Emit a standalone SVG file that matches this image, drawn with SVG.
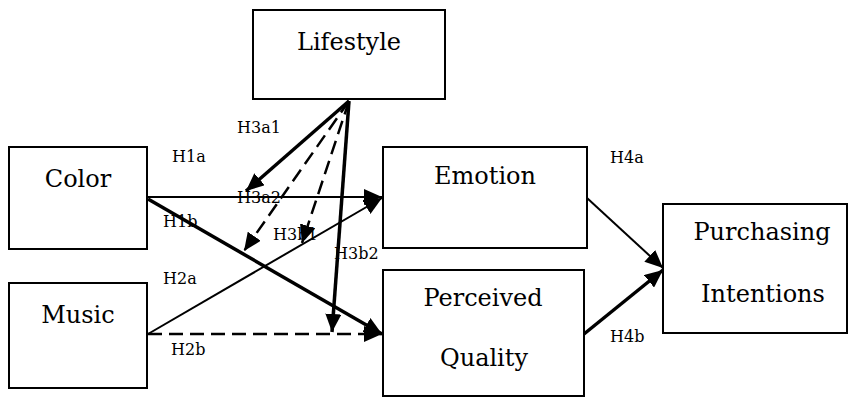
<svg xmlns="http://www.w3.org/2000/svg" width="852" height="399" viewBox="0 0 852 399">
<style>
.box{fill:#fff;stroke:#000;stroke-width:2}
.nt{font-family:DejaVu Serif,serif;font-size:24px;fill:#000;text-anchor:middle}
.lb{font-family:DejaVu Serif,serif;font-size:16px;fill:#000}
.thin{stroke:#000;stroke-width:2;fill:none}
.thick{stroke:#000;stroke-width:3.5;fill:none}
.dash{stroke:#000;stroke-width:2.5;fill:none;stroke-dasharray:14 7}
</style>
<defs>
<marker id="ah" markerUnits="userSpaceOnUse" markerWidth="20" markerHeight="16" refX="18" refY="8" orient="auto">
<path d="M0,0 L18,8 L0,16 Z" fill="#000"/>
</marker>
</defs>
<rect width="852" height="399" fill="#fff"/>
<g id="lifestyle"><rect class="box" x="253" y="10" width="192" height="89"/><text class="nt" x="349" y="50">Lifestyle</text></g>
<g id="color"><rect class="box" x="9" y="147" width="138" height="102"/><text class="nt" x="78" y="187">Color</text></g>
<g id="music"><rect class="box" x="9" y="283" width="138" height="105"/><text class="nt" x="78" y="323">Music</text></g>
<g id="emotion"><rect class="box" x="383" y="147" width="204" height="101"/><text class="nt" x="485" y="184">Emotion</text></g>
<g id="quality"><rect class="box" x="383" y="270" width="201" height="126"/><text class="nt" x="483" y="306">Perceived</text><text class="nt" x="484" y="366">Quality</text></g>
<g id="intentions"><rect class="box" x="663" y="204" width="184" height="129"/><text class="nt" x="762" y="240">Purchasing</text><text class="nt" x="763" y="302">Intentions</text></g>
<g id="connectors">
<line class="thin" x1="147" y1="197" x2="382" y2="197" marker-end="url(#ah)"/>
<line class="thick" x1="148" y1="199" x2="382" y2="334" marker-end="url(#ah)"/>
<line class="thin" x1="148" y1="334" x2="382" y2="198" marker-end="url(#ah)"/>
<line class="dash" x1="148" y1="334" x2="382" y2="334" marker-end="url(#ah)"/>
<line class="thick" x1="349" y1="101" x2="246" y2="191" marker-end="url(#ah)"/>
<line class="dash" x1="349" y1="101" x2="244" y2="251" marker-end="url(#ah)"/>
<line class="dash" x1="349" y1="101" x2="302" y2="243" marker-end="url(#ah)"/>
<line class="thick" x1="349" y1="101" x2="332" y2="332" marker-end="url(#ah)"/>
<line class="thin" x1="587" y1="198" x2="663" y2="268" marker-end="url(#ah)"/>
<line class="thick" x1="584" y1="334" x2="663" y2="270" marker-end="url(#ah)"/>
</g>
<g id="labels">
<text class="lb" x="172" y="162">H1a</text>
<text class="lb" x="237" y="133">H3a1</text>
<text class="lb" x="237" y="203">H3a2</text>
<text class="lb" x="163" y="227">H1b</text>
<text class="lb" x="273" y="240">H3b1</text>
<text class="lb" x="334" y="259">H3b2</text>
<text class="lb" x="163" y="284">H2a</text>
<text class="lb" x="171" y="355">H2b</text>
<text class="lb" x="610" y="163">H4a</text>
<text class="lb" x="610" y="342">H4b</text>
</g>
</svg>
